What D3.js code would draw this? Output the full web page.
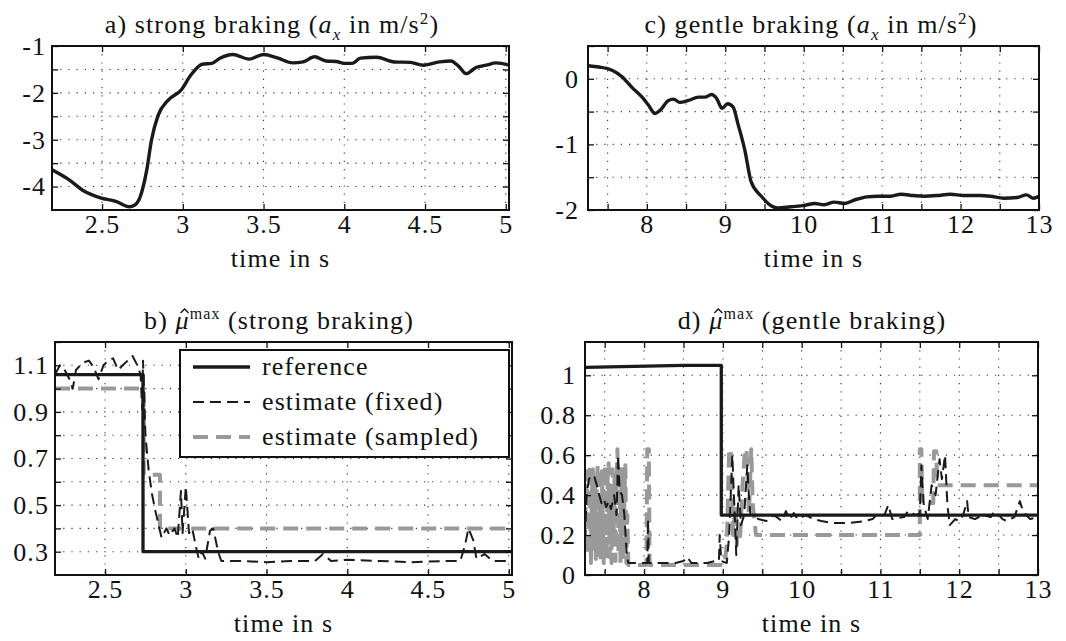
<!DOCTYPE html>
<html><head><meta charset="utf-8">
<script src="https://cdn.jsdelivr.net/npm/d3@7"></script>
<style>body{margin:0;background:#fff}</style>
</head><body>
<svg id="chart" width="1066" height="641"></svg>
<script>
// ---------- data ----------
// a) strong braking acceleration
const aT = [2.19,2.29,2.39,2.49,2.59,2.67,2.70,2.735,2.776,2.806,2.847,2.908,2.99,3.05,3.12,3.18,3.23,3.31,3.41,3.50,3.59,3.68,3.745,3.816,3.888,3.95,4.0,4.05,4.10,4.20,4.31,4.41,4.49,4.59,4.66,4.71,4.755,4.816,4.878,4.94,5.02];
const aV = [-3.64,-3.84,-4.10,-4.24,-4.32,-4.43,-4.40,-4.23,-3.66,-3.01,-2.48,-2.16,-1.94,-1.62,-1.39,-1.37,-1.26,-1.18,-1.28,-1.18,-1.26,-1.36,-1.34,-1.23,-1.32,-1.33,-1.37,-1.37,-1.26,-1.24,-1.34,-1.35,-1.41,-1.34,-1.32,-1.44,-1.59,-1.46,-1.41,-1.36,-1.41];
// c) gentle braking acceleration
const cT = [7.25,7.39,7.556,7.68,7.81,7.94,8.02,8.106,8.17,8.275,8.34,8.42,8.53,8.66,8.74,8.825,8.89,8.96,9.03,9.10,9.16,9.25,9.33,9.46,9.59,9.67,9.84,10.01,10.14,10.26,10.39,10.52,10.665,10.81,10.94,11.11,11.24,11.4,11.53,11.7,11.87,12.04,12.25,12.38,12.55,12.72,12.84,12.93,13.0];
const cV = [0.20,0.18,0.13,0.035,-0.13,-0.28,-0.40,-0.53,-0.48,-0.33,-0.31,-0.36,-0.33,-0.28,-0.28,-0.24,-0.30,-0.45,-0.38,-0.43,-0.68,-1.09,-1.57,-1.79,-1.94,-1.97,-1.95,-1.93,-1.90,-1.92,-1.88,-1.90,-1.84,-1.80,-1.79,-1.79,-1.76,-1.78,-1.79,-1.78,-1.76,-1.78,-1.78,-1.79,-1.82,-1.81,-1.77,-1.82,-1.79];
// b) mu max, strong braking
const bRefT = [2.19,2.735,2.735,5.02];
const bRefV = [1.06,1.06,0.30,0.30];
const bSamT = [2.19,2.74,2.74,2.84,2.84,5.02];
const bSamV = [1.0,1.0,0.63,0.63,0.40,0.40];
const bFixT = [2.19,2.22,2.25,2.28,2.30,2.32,2.36,2.40,2.43,2.46,2.49,2.52,2.55,2.58,2.61,2.64,2.67,2.70,2.72,2.73,2.735,2.75,2.77,2.79,2.81,2.83,2.85,2.88,2.90,2.93,2.95,2.97,2.98,3.00,3.02,3.04,3.06,3.08,3.10,3.12,3.15,3.17,3.20,3.22,3.35,3.5,3.65,3.8,3.85,3.9,4.0,4.2,4.4,4.6,4.7,4.73,4.75,4.78,4.80,4.85,4.90,5.02];
const bFixV = [1.06,1.10,1.08,1.04,1.00,1.08,1.11,1.12,1.09,1.04,1.10,1.12,1.13,1.08,1.10,1.12,1.14,1.10,1.06,0.91,1.12,0.80,0.65,0.55,0.48,0.42,0.36,0.40,0.37,0.40,0.36,0.56,0.38,0.58,0.38,0.40,0.33,0.27,0.30,0.27,0.39,0.40,0.30,0.26,0.26,0.255,0.26,0.26,0.29,0.26,0.265,0.26,0.255,0.26,0.26,0.33,0.40,0.35,0.27,0.29,0.26,0.26];
// d) mu max, gentle braking
const dRefT = [7.25,8.5,8.98,8.98,13.0];
const dRefV = [1.04,1.05,1.05,0.30,0.30];
const dSamT = [7.25,7.262,7.275,7.287,7.30,7.312,7.325,7.337,7.35,7.362,7.375,7.387,7.40,7.412,7.425,7.437,7.45,7.462,7.475,7.487,7.50,7.512,7.525,7.537,7.55,7.562,7.575,7.587,7.60,7.612,7.625,7.637,7.65,7.662,7.675,7.687,7.70,7.712,7.725,7.737,7.75,7.762,7.775,7.787,7.80,8.03,8.04,8.06,8.07,9.02,9.05,9.08,9.10,9.13,9.16,9.18,9.22,9.25,9.28,9.30,9.33,9.36,9.38,9.42,11.5,11.5,11.52,11.53,11.67,11.68,11.71,11.72,13.0];
const dSamV = [0.15,0.45,0.52,0.10,0.35,0.55,0.06,0.40,0.53,0.12,0.50,0.08,0.46,0.55,0.10,0.38,0.07,0.52,0.30,0.06,0.55,0.20,0.08,0.48,0.56,0.09,0.42,0.06,0.53,0.15,0.50,0.07,0.45,0.63,0.10,0.55,0.06,0.48,0.53,0.08,0.40,0.55,0.06,0.30,0.05,0.05,0.63,0.63,0.05,0.05,0.15,0.63,0.63,0.20,0.35,0.15,0.20,0.45,0.63,0.63,0.30,0.63,0.35,0.20,0.20,0.63,0.63,0.36,0.36,0.62,0.62,0.45,0.45];
const dFixT = [7.25,7.27,7.30,7.33,7.37,7.40,7.43,7.46,7.49,7.52,7.55,7.58,7.62,7.65,7.67,7.69,7.72,7.75,7.78,7.80,7.9,8.0,8.04,8.05,8.06,8.2,8.4,8.5,8.55,8.6,8.8,8.9,8.95,8.96,8.98,9.05,9.08,9.12,9.15,9.17,9.20,9.23,9.27,9.31,9.33,9.35,9.40,9.45,9.55,9.65,9.75,9.80,9.85,9.90,9.95,10.05,10.15,10.25,10.4,10.6,10.8,10.9,10.95,11.05,11.1,11.15,11.3,11.35,11.45,11.5,11.52,11.55,11.6,11.65,11.7,11.75,11.78,11.82,11.85,11.88,11.95,12.0,12.05,12.1,12.12,12.2,12.3,12.4,12.45,12.5,12.55,12.6,12.7,12.77,12.8,12.85,12.9,13.0];
const dFixV = [0.18,0.40,0.48,0.50,0.49,0.45,0.40,0.36,0.38,0.34,0.37,0.33,0.40,0.30,0.60,0.42,0.40,0.30,0.10,0.06,0.06,0.06,0.06,0.28,0.06,0.06,0.06,0.07,0.09,0.06,0.06,0.07,0.07,0.20,0.07,0.06,0.20,0.60,0.30,0.10,0.45,0.25,0.30,0.55,0.40,0.30,0.30,0.28,0.27,0.30,0.27,0.32,0.28,0.31,0.28,0.30,0.28,0.27,0.26,0.26,0.27,0.28,0.30,0.30,0.35,0.28,0.29,0.32,0.30,0.31,0.55,0.35,0.28,0.45,0.40,0.58,0.48,0.60,0.35,0.25,0.28,0.27,0.30,0.37,0.29,0.28,0.30,0.29,0.32,0.30,0.28,0.27,0.29,0.37,0.33,0.30,0.28,0.29];

// ticks
const aXTicks = [2.5,3,3.5,4,4.5,5];
const aYTicks = [-4,-3.5,-3,-2.5,-2,-1.5,-1];
const cXTicks = [7.5,8,8.5,9,9.5,10,10.5,11,11.5,12,12.5,13];
const cYTicks = [-2,-1.5,-1,-0.5,0,0.5];
const bYTicks = [0.3,0.4,0.5,0.6,0.7,0.8,0.9,1.0,1.1,1.2];
const dYTicks = [0,0.2,0.4,0.6,0.8,1.0];
const legendLabels = ["reference","estimate (fixed)","estimate (sampled)"];

// ---------- drawing ----------
const svg = d3.select("#chart");
const FONT = "Liberation Serif";
const LS = 1.1;
svg.append("rect").attr("width",1066).attr("height",641).attr("fill","#fff");

const fmtNum = d => String(d).replace("\u2212","-");
const intOnly = d => Number.isInteger(d) ? fmtNum(d) : "";

const STY = {
  ref: {stroke:"#1a1a1a", w:3.3, dash:null},
  fix: {stroke:"#1a1a1a", w:2, dash:"11,6"},
  sam: {stroke:"#999", w:4, dash:"15,8"}
};

let clipId = 0;
function panel(o){
  const g = svg.append("g");
  const x = d3.scaleLinear().domain(o.xd).range([o.x0,o.x1]);
  const y = d3.scaleLinear().domain(o.yd).range([o.y1,o.y0]);
  // grid
  g.selectAll(".gx").data(o.xt.filter(v=>Math.abs(x(v)-o.x0)>2&&Math.abs(x(v)-o.x1)>2)).join("line")
    .attr("x1",d=>x(d)).attr("x2",d=>x(d)).attr("y1",o.y0).attr("y2",o.y1)
    .attr("stroke","#333").attr("stroke-width",1.1).attr("stroke-dasharray","1.2,7");
  g.selectAll(".gy").data(o.yt.filter(v=>Math.abs(y(v)-o.y0)>2&&Math.abs(y(v)-o.y1)>2)).join("line")
    .attr("x1",o.x0).attr("x2",o.x1).attr("y1",d=>y(d)).attr("y2",d=>y(d))
    .attr("stroke","#333").attr("stroke-width",1.1).attr("stroke-dasharray","1.2,7");
  // data
  const id = "clip"+(clipId++);
  g.append("clipPath").attr("id",id).append("rect")
    .attr("x",o.x0).attr("y",o.y0).attr("width",o.x1-o.x0).attr("height",o.y1-o.y0);
  const dg = g.append("g").attr("clip-path",`url(#${id})`);
  o.series.forEach(s=>{
    const pts = s.t.map((t,i)=>[t,s.v[i]]);
    const line = d3.line().x(d=>x(d[0])).y(d=>y(d[1])).curve(s.curve||d3.curveLinear);
    dg.append("path").attr("d",line(pts)).attr("fill","none")
      .attr("stroke",s.sty.stroke).attr("stroke-width",s.sty.w)
      .attr("stroke-dasharray",s.sty.dash).attr("stroke-linejoin","round");
  });
  // axes
  const style = sel => {
    sel.attr("font-family",FONT).attr("font-size",26);
    sel.select(".domain").remove();
    sel.selectAll(".tick line").attr("stroke","#111").attr("stroke-width",1.3);
    sel.selectAll(".tick text").attr("fill","#111").attr("letter-spacing",LS);
  };
  g.append("g").attr("transform",`translate(0,${o.y1})`)
    .call(d3.axisBottom(x).tickValues(o.xt).tickSize(-6).tickPadding(5).tickFormat(o.xf)).call(style);
  g.append("g").attr("transform",`translate(0,${o.y0})`)
    .call(d3.axisTop(x).tickValues(o.xt).tickSize(-6).tickFormat("")).call(style);
  g.append("g").attr("transform",`translate(${o.x0},0)`)
    .call(d3.axisLeft(y).tickValues(o.yt).tickSize(-6).tickPadding(o.yp).tickFormat(o.yf)).call(style);
  g.append("g").attr("transform",`translate(${o.x1},0)`)
    .call(d3.axisRight(y).tickValues(o.yt).tickSize(-6).tickFormat("")).call(style);
  // box
  g.append("rect").attr("x",o.x0).attr("y",o.y0).attr("width",o.x1-o.x0).attr("height",o.y1-o.y0)
    .attr("fill","none").attr("stroke","#111").attr("stroke-width",2);
  // x label
  g.append("text").attr("x",(o.x0+o.x1)/2).attr("y",o.y1+57).attr("text-anchor","middle")
    .attr("font-family",FONT).attr("font-size",26).attr("letter-spacing",LS)
    .attr("fill","#111").text("time in s");
  // title
  const ty = o.y0-13;
  const tt = g.append("text").attr("x",o.tx).attr("y",ty).attr("text-anchor","middle")
    .attr("font-family",FONT).attr("font-size",26).attr("letter-spacing",LS).attr("fill","#111");
  let cur = 0, idx = 0, hatIdx = -1;
  o.title.forEach(p=>{
    const [txt, kind] = p;
    let off = 0, fs = null, fst = null;
    if (kind==="i" || kind==="hat") fst="italic";
    if (kind==="sub"){ off = 7; fs = 17; fst="italic"; }
    if (kind==="sup"){ off = -9; fs = 17; }
    if (kind==="supm"){ off = -10; fs = 16; }
    if (kind==="hat") hatIdx = idx;
    const ts = tt.append("tspan").attr("dy", off-cur).text(txt);
    if (fs) ts.attr("font-size",fs);
    if (fst) ts.attr("font-style",fst);
    cur = off; idx += txt.length;
  });
  if (hatIdx >= 0) {
    // circumflex accent over the mu, drawn as a small stroke
    const n = tt.node();
    const s = n.getStartPositionOfChar(hatIdx), e = n.getEndPositionOfChar(hatIdx);
    const cx = (s.x+e.x)/2 + 2, cy = ty - 19;
    g.append("path").attr("d",`M${cx-4},${cy+3}L${cx},${cy-1}L${cx+4},${cy+3}`)
      .attr("fill","none").attr("stroke","#111").attr("stroke-width",1.3);
  }
  return {x,y,g};
}

// a
panel({x0:52,x1:509,y0:46,y1:210,xd:[2.19,5.02],yd:[-4.5,-1],xt:aXTicks,yt:aYTicks,
  xf:fmtNum, yf:intOnly, yp:6, tx:272,
  title:[["a) strong braking (",""],["a","i"],["x","sub"],[" in m/s",""],["2","sup"],[")",""]],
  series:[{t:aT,v:aV,sty:{stroke:"#1a1a1a",w:3.4,dash:null},curve:d3.curveMonotoneX}]});
// c
panel({x0:588,x1:1039,y0:46,y1:210,xd:[7.25,13],yd:[-2,0.5],xt:cXTicks,yt:cYTicks,
  xf:intOnly, yf:intOnly, yp:9, tx:811,
  title:[["c) gentle braking (",""],["a","i"],["x","sub"],[" in m/s",""],["2","sup"],[")",""]],
  series:[{t:cT,v:cV,sty:{stroke:"#1a1a1a",w:3.4,dash:null},curve:d3.curveMonotoneX}]});
// b
panel({x0:55,x1:512,y0:342,y1:575,xd:[2.19,5.02],yd:[0.2,1.2],xt:aXTicks,yt:bYTicks,
  xf:fmtNum, yf:d=>[0.3,0.5,0.7,0.9,1.1].some(v=>Math.abs(v-d)<1e-9)?fmtNum(d):"", yp:6, tx:279,
  title:[["b) ",""],["\u03BC","hat"],["max","supm"],[" (strong braking)",""]],
  series:[{t:bSamT,v:bSamV,sty:STY.sam},{t:bFixT,v:bFixV,sty:STY.fix},{t:bRefT,v:bRefV,sty:STY.ref}]});
// d
panel({x0:585,x1:1038,y0:342,y1:575,xd:[7.25,13],yd:[0,1.1667],xt:cXTicks,yt:dYTicks,
  xf:intOnly, yf:d=>fmtNum(d), yp:9, tx:812,
  title:[["d) ",""],["\u03BC","hat"],["max","supm"],[" (gentle braking)",""]],
  series:[{t:dSamT,v:dSamV,sty:STY.sam},{t:dFixT,v:dFixV,sty:STY.fix},{t:dRefT,v:dRefV,sty:STY.ref}]});

// legend in b
const lg = svg.append("g");
lg.append("rect").attr("x",180).attr("y",350).attr("width",329).attr("height",107)
  .attr("fill","#fff").attr("stroke","#111").attr("stroke-width",2);
const legSty = [STY.ref, STY.fix, STY.sam];
legendLabels.forEach((lab,i)=>{
  const yy = 367 + i*35;
  lg.append("line").attr("x1",193).attr("x2",250).attr("y1",yy).attr("y2",yy)
    .attr("stroke",legSty[i].stroke).attr("stroke-width",legSty[i].w).attr("stroke-dasharray",legSty[i].dash);
  lg.append("text").attr("x",262).attr("y",yy+8).attr("font-family",FONT).attr("font-size",26)
    .attr("letter-spacing",LS).attr("fill","#111").text(lab);
});
</script>
</body></html>
